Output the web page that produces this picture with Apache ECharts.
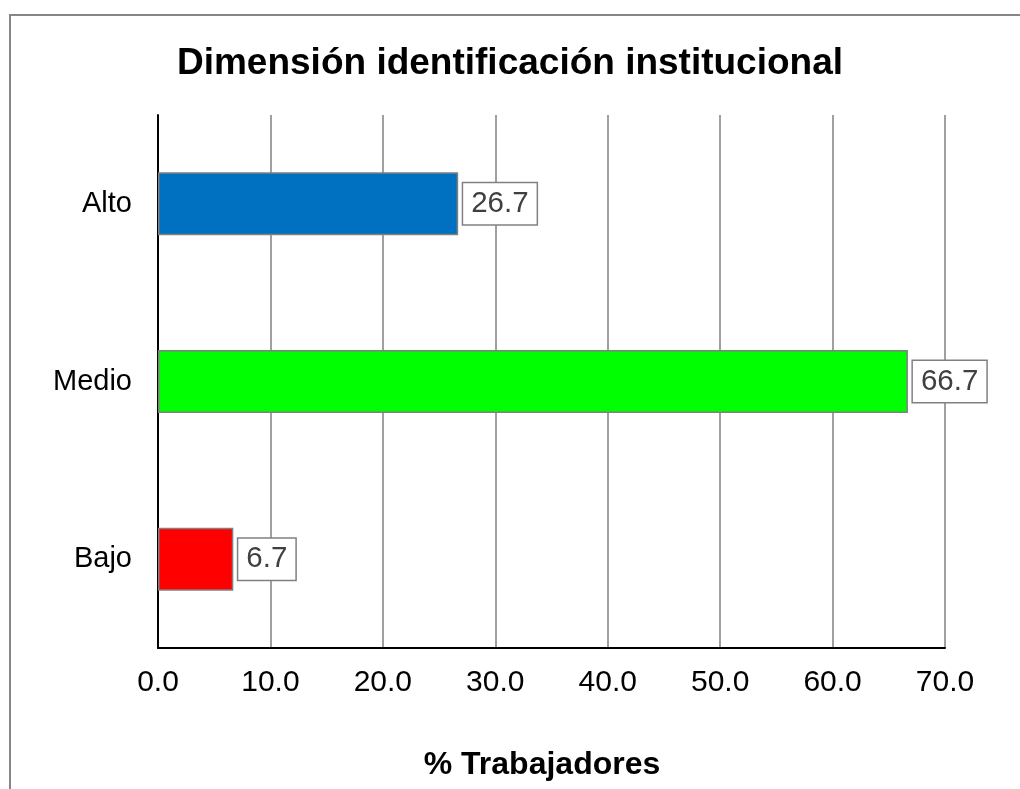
<!DOCTYPE html>
<html>
<head>
<meta charset="utf-8">
<script src="https://cdn.jsdelivr.net/npm/echarts@6/dist/echarts.min.js"></script>
<style>
  html, body { margin: 0; padding: 0; background: #fff; }
  #chart { width: 1020px; height: 789px; }
</style>
</head>
<body>
<div id="chart"></div>
<script>
// datos
const categories = ['Alto', 'Medio', 'Bajo']
const values = [26.7, 66.7, 6.7]
const barColors = ['#0070C0', '#00FF00', '#FF0000']
const axisTicks = [0, 10, 20, 30, 40, 50, 60, 70]

const chart = echarts.init(document.getElementById('chart'))
const font = 'Arial, "Liberation Sans", sans-serif'

chart.setOption({
  animation: false,
  textStyle: { fontFamily: font },
  title: [
    {
      text: 'Dimensión identificación institucional',
      left: 505, top: 40, textAlign: 'center',
      textStyle: { fontSize: 37, fontWeight: 'bold', color: '#000', fontFamily: font },
    },
    {
      text: '% Trabajadores',
      left: 537, top: 744, textAlign: 'center',
      textStyle: { fontSize: 32, fontWeight: 'bold', color: '#000', fontFamily: font },
    },
  ],
  graphic: [{
    type: 'rect',
    shape: { x: 10, y: 15, width: 1030, height: 800 },
    style: { fill: 'none', stroke: '#868686', lineWidth: 2 },
    silent: true,
  }],
  grid: { left: 158, right: 75, top: 115, bottom: 141 },
  xAxis: {
    type: 'value',
    min: axisTicks[0],
    max: axisTicks[axisTicks.length - 1],
    interval: 10,
    axisLine: { show: true, lineStyle: { color: '#000', width: 2 } },
    axisTick: { show: false },
    axisLabel: {
      fontSize: 30, color: '#000', margin: 20, fontFamily: font,
      formatter: v => v.toFixed(1),
    },
    splitLine: { show: true, lineStyle: { color: '#808080', width: 1.5 } },
  },
  yAxis: {
    type: 'category',
    data: categories,
    inverse: true,
    axisLine: { show: true, lineStyle: { color: '#000', width: 2 } },
    axisTick: { show: false },
    axisLabel: { fontSize: 29, color: '#000', margin: 26, fontFamily: font },
    splitLine: { show: false },
  },
  series: [{
    type: 'bar',
    barWidth: 63,
    data: values.map((v, i) => ({
      value: v,
      itemStyle: { color: barColors[i], borderColor: '#808080', borderWidth: 1.5 },
    })),
    label: {
      show: true,
      position: 'right',
      distance: 5,
      fontSize: 29.5,
      color: '#404040',
      fontFamily: font,
      backgroundColor: '#fff',
      borderColor: '#808080',
      borderWidth: 1.5,
      padding: [6, 8, 5, 8],
      formatter: p => p.value.toFixed(1),
    },
  }],
})
</script>
</body>
</html>
